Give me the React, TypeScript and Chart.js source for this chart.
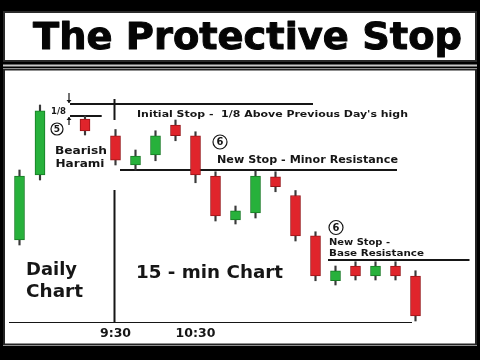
import { useEffect, useRef } from "react";
import { Chart, registerables } from "chart.js";

Chart.register(...registerables);

// Horizontal positions are in 15-minute bar slots (9:30 bar = 0).
const dailyX = [-4.8, -3.775, -1.525];
const dailyOpen = [33.2, 59.2, 81.6];
const dailyHigh = [61.2, 87.2, 82.8];
const dailyLow = [31.2, 57.2, 75.2];
const dailyClose = [58.8, 84.9, 76.8];

const intradayX = [0, 1, 2, 3, 4, 5, 6, 7, 8, 9, 10, 11, 12, 13, 14, 15];
const intradayOpen = [74.9, 63.2, 67.2, 79.2, 74.9, 58.8, 41.2, 44.0, 58.5, 51.0, 34.9, 16.9, 22.8, 18.8, 22.8, 18.8];
const intradayHigh = [77.4, 69.2, 76.9, 81.2, 76.5, 60.5, 46.8, 60.8, 60.5, 53.0, 36.5, 22.8, 24.5, 24.5, 24.5, 20.9];
const intradayLow = [63.2, 61.2, 64.9, 72.9, 56.1, 40.8, 39.6, 42.0, 52.5, 32.8, 16.9, 15.2, 17.2, 17.2, 17.2, 0.8];
const intradayClose = [65.1, 66.8, 74.9, 74.9, 59.2, 42.8, 44.9, 58.8, 54.5, 34.8, 18.8, 20.9, 18.8, 22.8, 18.8, 2.8];

const tickX = [0, 4];
const tickLabels = ["9:30", "10:30"];

// Stop levels and where each reference line starts / ends.
const initialStop = 87.6;
const initialStopSpan = [-2.275, 9.875];
const previousHigh = 82.8;
const previousHighSpan = [-2.275, -0.69];
const minorResistance = 61.2;
const minorResistanceSpan = [0.225, 14.075];
const baseResistance = 25.2;
const baseResistanceSpan = [10.625, 17.7];
const dividerX = -0.05;
const dividerTop = [89.6, 81.2];
const dividerBottom = [53.2, 0];
const axisSpan = [-5.325, 14.825];

const X_MIN = -5.325;
const X_MAX = 17.725;

const GREEN = "#27b13b";
const RED = "#e0242b";
const GREEN_EDGE = "#177a24";
const RED_EDGE = "#981418";
const INK = "#161616";
const FONT = '"DejaVu Sans", Verdana, sans-serif';

type Label = { text: string; x: number; y: number; size: number; width: number };

const labels: Label[] = [
  { text: "1/8", x: -3.225, y: 83.8, size: 8, width: 15 },
  { text: "Bearish", x: -3.025, y: 67.8, size: 10, width: 52 },
  { text: "Harami", x: -3.0, y: 62.5, size: 10, width: 49 },
  { text: "Initial Stop -  1/8 Above Previous Day's high", x: 1.075, y: 82.3, size: 9.5, width: 271 },
  { text: "New Stop - Minor Resistance", x: 5.075, y: 63.9, size: 10, width: 181 },
  { text: "New Stop -", x: 10.675, y: 31.2, size: 9.5, width: 61 },
  { text: "Base Resistance", x: 10.675, y: 26.8, size: 9.5, width: 95 },
  { text: "Daily", x: -4.475, y: 19.2, size: 18.5, width: 51 },
  { text: "Chart", x: -4.475, y: 10.5, size: 18.5, width: 57 },
  { text: "15 - min Chart", x: 1.025, y: 18.0, size: 18, width: 147 },
];

const circled = [
  { text: "5", x: -2.925, y: 77.6, r: 6 },
  { text: "6", x: 5.225, y: 72.4, r: 7 },
  { text: "6", x: 11.025, y: 38.2, r: 7 },
];

function fitText(
  ctx: CanvasRenderingContext2D,
  text: string,
  x: number,
  y: number,
  size: number,
  width: number,
  outline = 0
) {
  ctx.font = `bold ${size}px ${FONT}`;
  const w = ctx.measureText(text).width;
  ctx.save();
  ctx.translate(x, y);
  ctx.scale(width / w, 1);
  ctx.textAlign = "left";
  ctx.textBaseline = "alphabetic";
  ctx.fillText(text, 0, 0);
  if (outline > 0) {
    ctx.lineWidth = outline;
    ctx.lineJoin = "round";
    ctx.strokeStyle = ctx.fillStyle as string;
    ctx.strokeText(text, 0, 0);
  }
  ctx.restore();
}

const framePlugin = {
  id: "frame",
  beforeDraw(chart: Chart) {
    const { ctx, width, height } = chart;
    ctx.save();
    ctx.fillStyle = "#000";
    ctx.fillRect(0, 0, width, height);

    // title box
    ctx.fillStyle = "#fff";
    ctx.fillRect(4, 12, 472, 49);
    ctx.strokeStyle = "#2a2a2a";
    ctx.lineWidth = 2;
    ctx.strokeRect(4, 12, 472, 49);
    ctx.fillStyle = "#050505";
    fitText(ctx, "The Protective Stop", 33, 48.5, 38, 429, 1);

    // thin rule between the title and the chart panel
    ctx.fillStyle = "#c8c8c8";
    ctx.fillRect(3, 64.5, 474, 2);

    // chart panel
    ctx.fillStyle = "#fff";
    ctx.fillRect(3, 68, 474, 278);
    ctx.strokeStyle = "#222";
    ctx.lineWidth = 2;
    ctx.strokeRect(4, 69.5, 472, 275);
    ctx.restore();
  },
  afterDatasetsDraw(chart: Chart) {
    const { ctx } = chart;
    const xs = chart.scales.x;
    const ys = chart.scales.y;
    ctx.save();
    ctx.fillStyle = INK;
    for (const l of labels) {
      fitText(ctx, l.text, xs.getPixelForValue(l.x), ys.getPixelForValue(l.y), l.size, l.width);
    }
    for (const c of circled) {
      const cx = xs.getPixelForValue(c.x);
      const cy = ys.getPixelForValue(c.y);
      ctx.beginPath();
      ctx.arc(cx, cy, c.r, 0, Math.PI * 2);
      ctx.fillStyle = "#fff";
      ctx.fill();
      ctx.strokeStyle = INK;
      ctx.lineWidth = 1.2;
      ctx.stroke();
      ctx.fillStyle = INK;
      ctx.font = `bold ${c.r + 3}px ${FONT}`;
      ctx.textAlign = "center";
      ctx.textBaseline = "middle";
      ctx.fillText(c.text, cx, cy + 0.5);
    }

    // 1/8 dimension arrows at the start of the two stop lines
    const ax = xs.getPixelForValue(initialStopSpan[0]) - 1;
    const topY = ys.getPixelForValue(initialStop);
    const lowY = ys.getPixelForValue(previousHigh);
    ctx.strokeStyle = INK;
    ctx.fillStyle = INK;
    ctx.lineWidth = 1.2;
    ctx.beginPath();
    ctx.moveTo(ax, topY - 11);
    ctx.lineTo(ax, topY - 1);
    ctx.moveTo(ax, lowY + 1);
    ctx.lineTo(ax, lowY + 9);
    ctx.stroke();
    ctx.beginPath();
    ctx.moveTo(ax - 2.5, topY - 4);
    ctx.lineTo(ax + 2.5, topY - 4);
    ctx.lineTo(ax, topY - 1);
    ctx.closePath();
    ctx.moveTo(ax - 2.5, lowY + 4);
    ctx.lineTo(ax + 2.5, lowY + 4);
    ctx.lineTo(ax, lowY + 1);
    ctx.closePath();
    ctx.fill();
    ctx.restore();
  },
};

function segment(x0: number, x1: number, y0: number, y1: number) {
  return {
    type: "line" as const,
    data: [
      { x: x0, y: y0 },
      { x: x1, y: y1 },
    ],
    borderColor: INK,
    borderWidth: 2,
    pointRadius: 0,
    fill: false,
    tension: 0,
  };
}

export default function App() {
  const canvasRef = useRef<HTMLCanvasElement | null>(null);

  useEffect(() => {
    const canvas = canvasRef.current;
    if (!canvas) return;

    const xs = [...dailyX, ...intradayX];
    const opens = [...dailyOpen, ...intradayOpen];
    const highs = [...dailyHigh, ...intradayHigh];
    const lows = [...dailyLow, ...intradayLow];
    const closes = [...dailyClose, ...intradayClose];
    const up = closes.map((c, i) => c >= opens[i]);

    const bodies = xs.map((x, i) => ({ x, y: [opens[i], closes[i]] }));
    const wicks = xs.map((x, i) => ({ x, y: [lows[i], highs[i]] }));

    const chart = new Chart(canvas, {
      type: "bar",
      data: {
        datasets: [
          {
            type: "bar",
            data: bodies as any,
            backgroundColor: up.map((u) => (u ? GREEN : RED)),
            borderColor: up.map((u) => (u ? GREEN_EDGE : RED_EDGE)),
            borderWidth: 1,
            borderSkipped: false,
            barThickness: 10,
            grouped: false,
          },
          {
            type: "bar",
            data: wicks as any,
            backgroundColor: "#3a3a3a",
            borderWidth: 0,
            barThickness: 1.5,
            grouped: false,
          },
          segment(initialStopSpan[0], initialStopSpan[1], initialStop, initialStop),
          segment(previousHighSpan[0], previousHighSpan[1], previousHigh, previousHigh),
          segment(minorResistanceSpan[0], minorResistanceSpan[1], minorResistance, minorResistance),
          segment(baseResistanceSpan[0], baseResistanceSpan[1], baseResistance, baseResistance),
          segment(dividerX, dividerX, dividerTop[0], dividerTop[1]),
          segment(dividerX, dividerX, dividerBottom[0], dividerBottom[1]),
          segment(axisSpan[0], axisSpan[1], 0, 0),
        ] as any,
      },
      options: {
        animation: false,
        responsive: false,
        devicePixelRatio: 1,
        layout: { padding: { left: 9, right: 10, top: 73, bottom: 17 } },
        plugins: {
          legend: { display: false },
          title: { display: false },
          tooltip: { enabled: false },
        },
        scales: {
          x: {
            type: "linear",
            min: X_MIN,
            max: X_MAX,
            offset: false,
            grid: { display: false, drawTicks: false },
            border: { display: false },
            afterBuildTicks: (scale: any) => {
              scale.ticks = tickX.map((v) => ({ value: v }));
            },
            afterFit: (scale: any) => {
              scale.height = 20;
            },
            ticks: {
              autoSkip: false,
              maxRotation: 0,
              padding: 3,
              color: INK,
              font: { family: FONT, weight: "bold", size: 12.5 },
              callback: (_v: any, i: number) => tickLabels[i] ?? "",
            },
          },
          y: {
            type: "linear",
            display: false,
            min: 0,
            max: 100,
          },
        },
      },
      plugins: [framePlugin],
    });

    return () => chart.destroy();
  }, []);

  return (
    <div style={{ position: "fixed", left: 0, top: 0, width: 480, height: 360, background: "#000" }}>
      <canvas ref={canvasRef} width={480} height={360} style={{ display: "block" }} />
    </div>
  );
}
